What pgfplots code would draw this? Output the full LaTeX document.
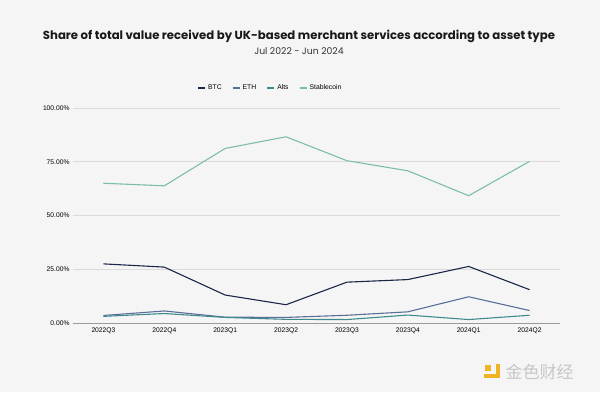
\documentclass[border=0pt]{standalone}
\usepackage{fontspec}
\setmainfont{Liberation Sans}
\newfontfamily\titlefont{Poppins}
\newfontfamily\cjk{Noto Sans CJK SC}
\usepackage{pgfplots}
\pgfplotsset{compat=1.18}
\definecolor{bgcol}{HTML}{F5F5F5}
\definecolor{btc}{HTML}{1B2748}
\definecolor{eth}{HTML}{5B6E99}
\definecolor{alts}{HTML}{3F8A8C}
\definecolor{stable}{HTML}{7DBEA6}
\definecolor{gridc}{HTML}{DADADA}
\definecolor{axc}{HTML}{9A9A9A}
\definecolor{wm}{HTML}{F0B323}
\begin{document}
\begin{tikzpicture}[x=1pt,y=1pt]
\fill[bgcol] (0,0) rectangle (600,392);
\node[font=\titlefont\bfseries\fontsize{11.7}{13}\selectfont, text=black!90] at (299,356) {Share of total value received by UK-based merchant services according to asset type};
\node[font=\titlefont\fontsize{9.3}{11}\selectfont, text=black!80] at (299,341) {Jul 2022 - Jun 2024};
% watermark
\fill[wm] (484,14) rectangle (500,18);
\fill[wm] (496,14) rectangle (500,28);
\fill[wm] (485,21) rectangle (491,27);
\node[font=\cjk\fontsize{17}{19}\selectfont, text=black!22, anchor=west] at (502,20) {金色财经};
\begin{axis}[
  at={(73pt,69pt)}, anchor=south west,
  width=487pt, height=215pt, scale only axis,
  xmin=-0.5, xmax=7.5, ymin=0, ymax=100,
  axis x line*=bottom, axis y line*=left,
  x axis line style={axc, line width=1pt, -},
  y axis line style={draw=none},
  major tick length=0pt,
  xtick={0,1,2,3,4,5,6,7},
  xticklabels={2022Q3,2022Q4,2023Q1,2023Q2,2023Q3,2023Q4,2024Q1,2024Q2},
  ytick={0,25,50,75,100},
  yticklabel={\pgfmathprintnumber[fixed,fixed zerofill,precision=2]{\tick}\%},
  /pgf/number format/assume math mode=true,
  tick label style={font=\fontsize{6.7}{8}\selectfont, text=black},
  xticklabel style={yshift=-1pt},
  ymajorgrids, grid style={gridc, line width=0.9pt},
  legend columns=4,
  legend style={at={(0.405,1.093)}, anchor=center, draw=none, fill=none,
    font=\fontsize{6.8}{8}\selectfont, /tikz/every even column/.append style={column sep=8pt}},
  legend image code/.code={\draw[#1, line width=2pt] (0pt,0pt) -- (7pt,0pt);},
  every axis plot/.append style={line width=1.1pt},
  clip=false,
]
\addplot[btc] coordinates {(0,27.5) (1,26) (2,13) (3,8.5) (4,19) (5,20.2) (6,26.3) (7,15.5)};
\addlegendentry{BTC}
\addplot[eth] coordinates {(0,3.5) (1,5.6) (2,2.7) (3,2.6) (4,3.6) (5,5.2) (6,12.2) (7,5.8)};
\addlegendentry{ETH}
\addplot[alts] coordinates {(0,3.1) (1,4.4) (2,2.6) (3,1.7) (4,1.6) (5,3.7) (6,1.6) (7,3.6)};
\addlegendentry{Alts}
\addplot[stable] coordinates {(0,65) (1,63.8) (2,81.2) (3,86.6) (4,75.5) (5,70.8) (6,59.2) (7,75.2)};
\addlegendentry{Stablecoin}
\end{axis}
\end{tikzpicture}
\end{document}
